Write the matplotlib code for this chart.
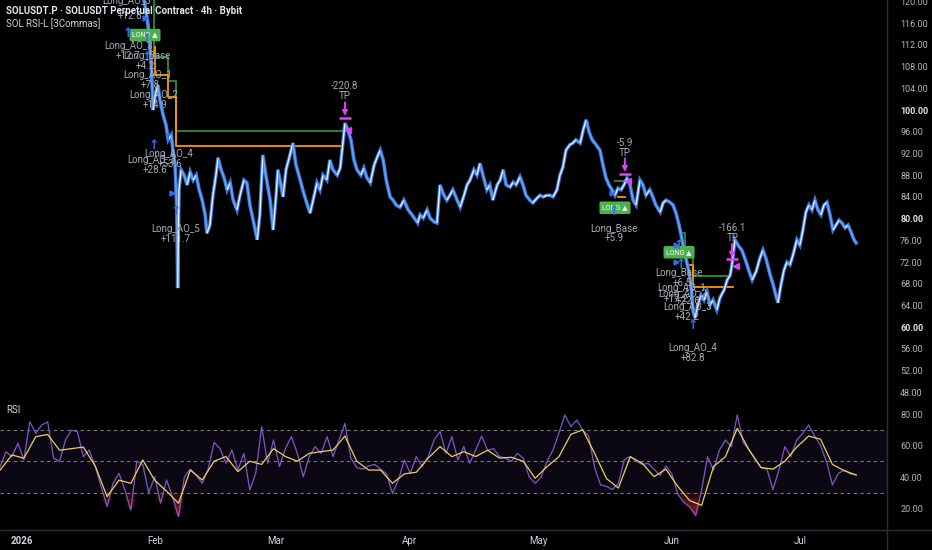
import numpy as np
import matplotlib
matplotlib.use("Agg")
import matplotlib.pyplot as plt
from matplotlib.collections import LineCollection
from matplotlib.lines import Line2D

# ---------------- data ----------------
# days since 2026-01-01 and price (SOLUSDT)
price_days = [0, 3, 6, 9, 12, 15, 18, 20, 22, 24, 26, 28,
    28.6, 29.3, 30.0, 30.5, 31.0, 31.6, 32.1, 32.8, 33.5, 34.0, 34.7, 35.1, 35.6, 36.0, 36.2, 36.5,
    37.0, 37.7, 38.4, 39.1, 39.8, 40.5, 41.2, 41.9, 42.6, 43.0, 43.7, 44.4, 45.1, 45.6, 46.3, 47.0,
    47.7, 48.4, 49.1, 50.0, 50.7, 51.6, 52.3, 53.0, 54.0, 54.7, 55.3, 56.0, 56.7, 57.7, 58.4, 59.1,
    59.5, 60.2, 60.7, 61.4, 62.3, 63.0, 63.7, 64.7, 65.3, 66.0, 67.0, 67.7, 68.6, 69.3, 70.0, 70.9,
    71.6, 72.3, 73.3, 74.0, 74.7, 75.1, 75.8, 76.5, 77.2, 77.9, 78.8, 79.5, 80.2, 81.0, 81.9, 82.6,
    83.3, 84.0, 84.7, 85.6, 86.3, 87.0, 87.9, 88.8, 89.8, 90.7, 92.0, 92.6, 93.3, 94.2, 94.9, 95.8,
    96.5, 97.2, 98.1, 98.8, 99.5, 100.2, 101.2, 101.9, 102.8, 103.5, 104.2, 105.1, 105.8, 106.5,
    107.2, 108.1, 108.8, 109.5, 110.5, 111.2, 111.9, 112.6, 113.5, 114.2, 114.9, 115.8, 116.5,
    117.2, 118.1, 118.8, 119.8, 120.5, 121.2, 122.1, 122.8, 123.5, 124.4, 125.1, 125.8, 126.5,
    127.4, 128.1, 128.8, 129.8, 130.5, 131.2, 131.9, 132.6, 133.5, 134.4, 135.1, 135.8, 136.5,
    137.2, 137.9, 138.6, 139.3, 140.0, 140.7, 141.4, 142.1, 142.8, 143.7, 144.4, 145.1, 146.0,
    146.7, 147.4, 148.4, 149.1, 149.8, 150.7, 151.4, 152.1, 152.8, 153.5, 154.2, 154.9, 155.6,
    156.0, 156.5, 157.2, 157.9, 158.6, 159.3, 160.0, 160.7, 161.6, 162.3, 163.3, 164.0, 164.7,
    165.1, 165.8, 166.5, 167.4, 168.4, 169.0, 169.8, 170.7, 171.6, 172.3, 173.0, 174.0, 174.7,
    175.3, 175.8, 176.5, 177.2, 177.9, 178.6, 179.3, 180.2, 180.9, 181.6, 182.3, 183.0, 183.7,
    184.4, 185.1, 185.8, 186.5, 187.2, 187.9, 188.6, 189.3, 190.0, 190.7, 191.4, 192.1, 192.8,
    193.5, 194.0]
price_vals = [128, 131, 136, 139, 141, 137, 134, 128, 126, 124, 123, 121.5,
    119.3, 115.7, 109.2, 100.0, 102.8, 104.6, 101.8, 99.1, 97.2, 94.5, 95.4, 92.6, 89.9, 81.6, 67.2, 85.3,
    89.0, 88.0, 86.2, 88.6, 87.1, 88.0, 85.3, 83.4, 80.7, 77.3, 78.8, 84.3, 88.0, 91.2, 89.0, 87.5,
    85.3, 86.6, 83.4, 81.6, 84.3, 87.1, 86.6, 82.5, 78.8, 76.1, 80.7, 91.7, 88.0, 83.4, 77.9, 84.3,
    89.0, 86.2, 84.0, 89.0, 91.7, 93.9, 89.9, 87.1, 85.3, 83.4, 81.0, 83.4, 86.6, 85.3, 88.0, 87.1,
    90.8, 89.0, 88.0, 89.3, 94.5, 97.6, 96.3, 94.5, 90.8, 89.0, 88.0, 89.3, 87.5, 86.6, 89.9, 91.3,
    92.6, 90.8, 87.1, 84.0, 83.4, 82.5, 82.1, 83.4, 81.6, 80.7, 79.2, 80.7, 80.1, 81.6, 80.1, 79.4,
    79.2, 86.2, 84.3, 83.4, 84.3, 85.3, 83.4, 82.1, 84.3, 86.2, 87.1, 89.0, 88.0, 90.2,
    88.0, 85.3, 86.2, 83.4, 86.2, 87.1, 89.0, 86.2, 85.8, 86.7, 86.2, 87.7, 86.2,
    84.3, 83.4, 82.9, 83.8, 84.3, 84.0, 84.3, 84.3, 84.0, 85.3, 88.0, 89.5, 92.6,
    93.6, 93.9, 94.5, 93.9, 96.3, 98.2, 95.9, 94.5, 93.6, 92.6, 89.9, 87.5, 86.2,
    85.3, 84.3, 85.6, 85.3, 86.2, 87.5, 86.2, 83.4, 82.5, 87.1, 86.2, 84.3, 85.3,
    84.0, 82.5, 81.2, 82.9, 83.4, 83.0, 82.5, 81.0, 78.8, 76.1, 73.3, 70.9, 67.8,
    63.2, 61.7, 64.1, 65.9, 65.0, 66.5, 64.1, 65.0, 63.2, 65.4, 66.9, 68.7, 69.6,
    71.5, 76.1, 75.1, 74.2, 72.0, 70.5, 68.7, 70.2, 72.7, 74.2, 72.7, 69.6, 67.8,
    65.9, 64.5, 67.8, 70.5, 72.0, 71.5, 73.3, 76.1, 75.1, 77.9, 81.2, 82.5, 81.6,
    83.4, 81.6, 80.7, 82.5, 83.0, 80.7, 77.9, 78.8, 79.7, 79.2, 78.3, 78.8, 77.5,
    76.1, 75.5]

# RSI(14) sampled every RSI_STEP days starting at RSI_START
RSI_START = -5.1
RSI_STEP = 1.3826
rsi_vals = [46.6, 56, 52.9, 61.4, 50.8, 75.1, 67.7, 73, 75, 52, 50, 63.5, 69.8, 68.8, 52.9, 57.1,
    46.6, 33.9, 21.2, 36, 42.3, 31.7, 19, 50, 48, 30, 40.2, 23.3, 38.1, 27.5, 14.8, 40, 45, 41, 36,
    45, 62, 58, 48.7, 57.1, 44.4, 55, 31.7, 42.3, 72, 48.7, 63.5, 46.6, 58.2, 65.6, 55, 40.2, 52.9,
    59.3, 55, 65.6, 52.9, 63.5, 74, 52, 46, 45, 47, 48, 45, 42, 29.6, 38.1, 50.8, 42.3, 52.9, 46.6,
    52.9, 63.5, 68.8, 55, 65.6, 50.8, 59.3, 48.7, 57.1, 66, 57, 58, 53, 52, 50, 55, 52, 40, 36, 40,
    50, 57, 68, 79.4, 72, 76.2, 69.8, 66, 46, 35, 34, 32, 36, 51, 53, 50, 48, 48.6, 45, 41, 47, 42,
    29, 24, 21, 15.5, 31.7, 52.9, 44.4, 57.1, 63.5, 59.3, 79.4, 62, 57, 51, 46, 45, 32, 44.4, 59.3,
    52.9, 63.5, 67.7, 73, 66, 60, 50, 35, 42.3, 44.4, 42, 41.3]

# RSI moving average sampled every MA_STEP days
MA_STEP = 2.7652
ma_vals = [44.4, 54, 51.9, 65.6, 67, 57, 58, 59, 47, 27.5, 38, 36, 50.8, 38, 31, 23.3, 44.4, 38.1,
    50, 53, 43.4, 50, 48, 58, 53, 50, 55, 56.1, 57.1, 66, 50, 44.4, 44.4, 36, 42, 43, 52, 59.3, 52.9,
    56.1, 53, 57, 52, 52.5, 50, 39.2, 46.6, 52.9, 67, 70, 55, 39, 33, 52.9, 48.7, 40.2, 45, 34, 25,
    22, 46.6, 52.9, 70.9, 57.1, 46, 45, 50, 59, 66, 64, 48, 44, 41.3]

# trade level lines (day, price) vertices
tp_line_feb = [(30.7, 121), (30.7, 109.8), (34.0, 109.8), (34.0, 105.3), (35.8, 105.3), (35.8, 96.1), (75.1, 96.1)]
avg_line_feb = [(30.9, 111.6), (30.9, 106.4), (34.0, 106.4), (34.0, 102.4), (35.8, 102.4), (35.8, 93.4), (74.4, 93.4)]
tp_line_may = [(137.9, 86.9), (141.0, 86.9)]
avg_line_may = [(138.6, 84.0), (140.2, 84.0)]
tp_line_jun = [(153.0, 77.3), (154.2, 77.3), (154.2, 72.9), (156.0, 72.9), (156.0, 69.4), (164.7, 69.4)]
avg_line_jun = [(154.7, 72.9), (154.7, 71.5), (156.0, 71.5), (156.0, 67.4), (165.3, 67.4)]

# order labels (text, day, price)
labels = [
    ("Long_AO_3", 24.4, 120.0), ("+12.8", 25.1, 117.3),
    ("Long_AO_3", 24.9, 111.8), ("+12.7", 24.7, 109.9), ("Long_Base", 29.1, 109.9),
    ("+4.2", 28.6, 108.1), ("Long_AO_1", 29.1, 106.4), ("+7.8", 29.8, 104.6),
    ("Long_AO_2", 30.7, 102.8), ("+14.9", 30.9, 100.9),
    ("Long_AO_4", 34.2, 91.9), ("Long_AO_3", 30.2, 90.8), ("+53.6", 34.4, 90.1), ("+28.6", 30.9, 89.0),
    ("Long_AO_5", 35.8, 78.1), ("+111.7", 35.8, 76.2),
    ("-220.8", 75.1, 104.4), ("TP", 75.1, 102.6),
    ("-5.9", 140.2, 93.9), ("TP", 140.2, 92.1),
    ("Long_Base", 137.7, 78.1), ("+5.9", 137.7, 76.4),
    ("-166.1", 165.3, 78.3), ("TP", 165.3, 76.4),
    ("Long_Base", 152.8, 70.0), ("+6.5", 153.5, 68.1), ("Long_AO_1", 153.5, 67.2),
    ("Long_AO_2", 153.7, 66.1), ("+17.2", 152.1, 65.2), ("+22.6", 155.0, 64.8),
    ("Long_AO_3", 154.7, 63.7), ("+42.2", 154.7, 61.9),
    ("Long_AO_4", 156.0, 56.2), ("+82.8", 156.0, 54.3),
]
badges = [(28.6, 113.8), (137.9, 82.0), (152.8, 73.8)]
entry_arrows = [(24.7, 114.0), (29.1, 113.0), (29.1, 109.7), (30.7, 93.5), (34.0, 94.8), (35.8, 81.3),
                (137.7, 81.3), (152.8, 75.1), (153.3, 71.5), (156.0, 60.4)]
entry_marks = [(28.6, 116.9), (30.2, 109.8), (34.9, 84.7), (137.2, 84.7), (152.1, 75.1), (152.1, 72.0)]
tp_exits = [(75.1, 101.4, 98.9, 98.6), (140.2, 91.1, 88.6, 88.3), (165.1, 75.3, 72.8, 72.5)]
tp_marks = [(75.8, 96.3), (140.9, 86.9), (166.0, 71.3)]

month_days = [0, 31, 59, 90, 120, 151, 181]
month_labels = ["2026", "Feb", "Mar", "Apr", "May", "Jun", "Jul"]
price_ticks = [48, 52, 56, 60, 64, 68, 72, 76, 80, 84, 88, 92, 96, 100, 104, 108, 112, 116, 120]
rsi_ticks = [20, 40, 60, 80]

# ---------------- styling ----------------
BG = "black"
TXT = "#b2b5be"
FAM = ["Roboto", "DejaVu Sans"]
W, H = 932, 550
PX_R = 887

fig = plt.figure(figsize=(W / 100, H / 100), dpi=100, facecolor=BG)
ax = fig.add_axes([0, (H - 400) / H, PX_R / W, 400 / H], facecolor=BG)
ax2 = fig.add_axes([0, (H - 530) / H, PX_R / W, 130 / H], facecolor=BG)

XL = (-5.12, 201.16)
for a in (ax, ax2):
    a.set_xlim(*XL)
    for s in a.spines.values():
        s.set_visible(False)
    a.tick_params(length=0)
ax.set_ylim(46.59, 120.26)
ax2.set_ylim(6.35, 88.89)

# price line
pd_ = np.array(price_days)
pv = np.array(price_vals)
ax.plot(pd_, pv, color="#3a78dc", lw=2.6, zorder=3, solid_joinstyle="miter")
pts = np.column_stack([pd_, pv])
segs = np.stack([pts[:-1], pts[1:]], axis=1)
cols = ["#eef3fd" if b >= a_ else "#6aa6f8" for a_, b in zip(pv[:-1], pv[1:])]
ax.add_collection(LineCollection(segs, colors=cols, linewidths=1.0, zorder=4))

# trade level lines
for line, c in [(tp_line_feb, "#2e8b3a"), (avg_line_feb, "#ff9800"), (tp_line_may, "#2e8b3a"),
                (avg_line_may, "#ff9800"), (tp_line_jun, "#2e8b3a"), (avg_line_jun, "#ff9800")]:
    xs, ys = zip(*line)
    ax.plot(xs, ys, color=c, lw=1.3, zorder=2)

for s, d, p in labels:
    ax.text(d, p, s, ha="center", va="center", fontsize=7, color="#a8abb3", family=FAM, zorder=6, clip_on=True)
for d, p in badges:
    ax.text(d, p, "LONG \u25b2", ha="center", va="center", fontsize=5, color="white", family=FAM, zorder=5,
            bbox=dict(boxstyle="round,pad=0.4,rounding_size=0.25", fc="#4caf50", ec="none"))
for d, p in entry_arrows:
    ax.text(d, p, "\u2191", ha="center", va="center", fontsize=9, fontweight="bold", color="#2f6ff0",
            family="DejaVu Sans", zorder=5)
for d, p in entry_marks:
    ax.plot(d, p, marker=">", ms=3.5, color="#2f6ff0", ls="none", zorder=5)
for d, ptop, pbot, pbar in tp_exits:
    ax.annotate("", xy=(d, pbot), xytext=(d, ptop),
                arrowprops=dict(arrowstyle="-|>", color="#e040fb", lw=1.4, mutation_scale=7,
                                shrinkA=0, shrinkB=0), zorder=6)
    ax.plot(d, pbar, marker="_", ms=9, mew=1.8, color="#e040fb", zorder=6)
for d, p in tp_marks:
    ax.plot(d, p, marker="<", ms=4.5, color="#e040fb", ls="none", zorder=6)

# price axis labels
ax.yaxis.tick_right()
ax.set_yticks(price_ticks)
ax.set_yticklabels([f"{t:.2f}" for t in price_ticks])
ax.tick_params(axis="y", pad=9.5, labelsize=6.5, labelcolor=TXT)
for t, lab in zip(price_ticks, ax.get_yticklabels()):
    lab.set_family(FAM)
    if t in (60, 80, 100):
        lab.set_fontweight("bold")
        lab.set_color("#e0e3eb")
ax.set_xticks([])

# RSI panel
rsi = np.array(rsi_vals)
rsi_days = RSI_START + RSI_STEP * np.arange(len(rsi))
ma = np.array(ma_vals)
ma_days = RSI_START + MA_STEP * np.arange(len(ma))
ax2.axhspan(30, 70, color="#7e57c2", alpha=0.1, lw=0)
for lvl in (70, 50, 30):
    ax2.axhline(lvl, color="#787b86", lw=0.8, ls=(0, (3, 3)))
for thr in (30, 26, 22, 18, 14):
    ax2.fill_between(rsi_days, np.minimum(rsi, thr), thr, where=rsi < thr, interpolate=True,
                     color="#f23645", alpha=0.18, lw=0)
ax2.plot(rsi_days, rsi, color="#7e57c2", lw=0.9, zorder=3)
ax2.plot(ma_days, ma, color="#e8d25a", lw=0.9, zorder=4)
ax2.text(6 / PX_R, (530 - 410) / 130, "RSI", transform=ax2.transAxes, fontsize=7, color="#d1d4dc",
         family=FAM, va="center", ha="left")

ax2.yaxis.tick_right()
ax2.set_yticks(rsi_ticks)
ax2.set_yticklabels([f"{t:.2f}" for t in rsi_ticks])
ax2.tick_params(axis="y", pad=9.5, labelsize=6.5, labelcolor=TXT)
for lab in ax2.get_yticklabels():
    lab.set_family(FAM)

ax2.set_xticks(month_days)
ax2.set_xticklabels(month_labels)
ax2.tick_params(axis="x", pad=4, labelsize=7, labelcolor="#d1d4dc")
for i, lab in enumerate(ax2.get_xticklabels()):
    lab.set_family(FAM)
    if i == 0:
        lab.set_fontweight("bold")

# frame lines
fig.add_artist(Line2D([PX_R / W] * 2, [0, 1], color="#2a2e39", lw=1))
fig.add_artist(Line2D([0, 1], [(H - 530) / H] * 2, color="#2a2e39", lw=1))

# titles
fig.text(6 / W, 1 - 11 / H, "SOLUSDT.P \u00b7 SOLUSDT Perpetual Contract \u00b7 4h \u00b7 Bybit", fontsize=7,
         fontweight="bold", color="#e0e3eb", family=FAM, va="center", ha="left")
fig.text(6 / W, 1 - 24 / H, "SOL RSI-L [3Commas]", fontsize=7, color="#d1d4dc", family=FAM,
         va="center", ha="left")

fig.savefig("out.png", dpi=100, facecolor=BG)
